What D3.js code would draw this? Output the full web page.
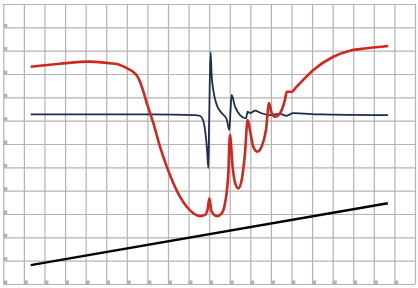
<!DOCTYPE html>
<html>
<head>
<meta charset="utf-8">
<script src="https://cdn.jsdelivr.net/npm/d3@7"></script>
<style>
  body { margin: 0; background: #fff; }
  svg { display: block; }
</style>
</head>
<body>
<div id="chart"></div>
<script>
/* data, in grid units (x: 0..20, y: 0..12) */
const xTicks = d3.range(0, 21);
const yTicks = d3.range(0, 13);

const redX = [1.33, 2.75, 4.21, 5.18, 5.67, 6.06, 6.30, 6.50, 6.64, 6.81, 6.97, 7.29, 7.61, 7.94, 8.26, 8.58, 8.91, 9.23, 9.56, 9.80, 9.92, 10.01, 10.12, 10.37, 10.61, 10.77, 10.93, 11.01, 11.14, 11.26, 11.42, 11.58, 11.74, 11.87, 11.98, 12.14, 12.34, 12.55, 12.76, 12.91, 13.04, 13.20, 13.44, 13.68, 13.77, 14.01, 14.25, 14.41, 15.06, 16.03, 16.84, 17.65, 18.70];
const redY = [9.31, 9.44, 9.53, 9.46, 9.39, 9.22, 9.10, 8.92, 8.67, 8.23, 7.75, 6.89, 5.89, 5.03, 4.32, 3.74, 3.31, 3.03, 2.91, 2.96, 3.17, 3.67, 3.10, 2.91, 3.03, 3.46, 4.74, 6.39, 5.03, 4.32, 4.10, 4.46, 5.60, 7.03, 6.60, 5.89, 5.67, 5.89, 6.60, 7.75, 7.32, 7.17, 7.32, 7.89, 8.24, 8.24, 8.46, 8.60, 9.17, 9.74, 10.00, 10.10, 10.20];

const navyX = [1.33, 7.13, 9.31, 9.56, 9.70, 9.80, 9.90, 9.96, 10.00, 10.07, 10.12, 10.20, 10.37, 10.61, 10.85, 10.98, 11.04, 11.09, 11.26, 11.50, 11.79, 11.87, 11.98, 12.23, 12.47, 12.96, 13.44, 13.77, 14.07, 15.39, 18.69];
const navyY = [7.27, 7.27, 7.24, 7.20, 7.03, 6.60, 5.74, 4.96, 7.03, 9.94, 8.96, 8.32, 7.67, 7.33, 7.07, 6.60, 7.46, 8.10, 7.60, 7.24, 7.10, 7.39, 7.32, 7.43, 7.34, 7.24, 7.29, 7.21, 7.32, 7.27, 7.24];

const blackX = [1.33, 18.68];
const blackY = [0.81, 3.46];

/* sizes */
const W = 418, H = 288;
const plot = { left: 3.3, right: 415, top: 4, bottom: 284 };

const svg = d3.select("#chart")
    .append("svg")
    .attr("width", W)
    .attr("height", H);

const x = d3.scaleLinear().domain([0, 20]).range([plot.left, plot.right]);
const y = d3.scaleLinear().domain([0, 12]).range([plot.bottom, plot.top]);

/* grid */
const gridColor = "#b3b3b3";
svg.append("g")
    .attr("transform", `translate(0, ${plot.bottom})`)
    .call(d3.axisBottom(x).tickValues(xTicks).tickSize(-(plot.bottom - plot.top)).tickFormat(""))
    .call(g => g.select(".domain").remove())
    .call(g => g.selectAll("line").attr("stroke", gridColor).attr("stroke-width", 1.2));
svg.append("g")
    .attr("transform", `translate(${plot.left}, 0)`)
    .call(d3.axisLeft(y).tickValues(yTicks).tickSize(-(plot.right - plot.left)).tickFormat(""))
    .call(g => g.select(".domain").remove())
    .call(g => g.selectAll("line").attr("stroke", gridColor).attr("stroke-width", 1.2));

/* small tick markers */
svg.selectAll(".xm")
    .data(xTicks.slice(0, -1))
    .enter().append("rect")
    .attr("x", d => x(d))
    .attr("y", plot.bottom - 3.5)
    .attr("width", 4).attr("height", 3.5)
    .attr("fill", gridColor);
svg.selectAll(".ym")
    .data(yTicks.slice(1, -1))
    .enter().append("rect")
    .attr("x", plot.left)
    .attr("y", d => y(d) - 3.5)
    .attr("width", 4).attr("height", 3.5)
    .attr("fill", gridColor);

/* lines */
const line = d3.line()
    .x(d => x(d[0]))
    .y(d => y(d[1]))
    .curve(d3.curveMonotoneX);

const series = [
    { xs: blackX, ys: blackY, color: "#000000", w: 2.4 },
    { xs: navyX,  ys: navyY,  color: "#1c2b52", w: 1.8 },
    { xs: redX,   ys: redY,   color: "#d0271f", w: 2.6 }
];

series.forEach(s => {
    svg.append("path")
        .datum(d3.zip(s.xs, s.ys))
        .attr("fill", "none")
        .attr("stroke", s.color)
        .attr("stroke-width", s.w)
        .attr("stroke-linejoin", "round")
        .attr("stroke-linecap", "butt")
        .attr("d", line);
});
</script>
</body>
</html>
